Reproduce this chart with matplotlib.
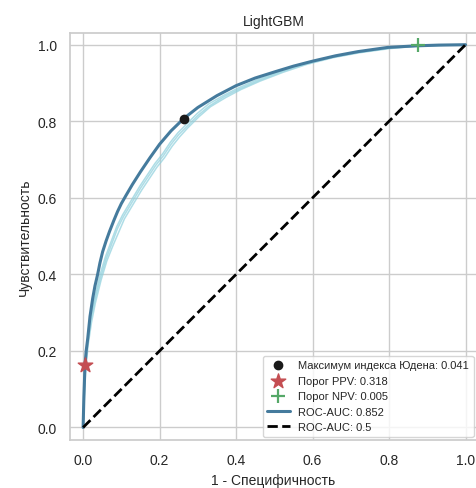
import numpy as np
import matplotlib.pyplot as plt
import seaborn as sns

sns.set_theme(style="whitegrid")
plt.rcParams['font.family'] = ['Liberation Sans', 'DejaVu Sans']

# main ROC curve (1 - specificity, sensitivity)
fpr = [0.0, 0.002, 0.005, 0.008, 0.012, 0.018, 0.025, 0.031, 0.038, 0.044, 0.051, 0.06, 0.069,
       0.08, 0.09, 0.1, 0.112, 0.129, 0.15, 0.175, 0.2, 0.23, 0.263, 0.3, 0.35, 0.4, 0.45,
       0.504, 0.55, 0.6, 0.66, 0.719, 0.797, 0.87, 0.93, 1.0]
tpr = [0.0, 0.08, 0.164, 0.2, 0.232, 0.29, 0.337, 0.37, 0.4, 0.43, 0.459, 0.487, 0.512,
       0.54, 0.564, 0.585, 0.606, 0.635, 0.668, 0.705, 0.74, 0.775, 0.807, 0.836, 0.867, 0.893, 0.913,
       0.93, 0.944, 0.957, 0.971, 0.982, 0.993, 0.997, 0.999, 1.0]

# cross-validation fold curves (lighter)
fold_fpr = [
    [0.0, 0.005, 0.012, 0.02, 0.03, 0.045, 0.06, 0.075, 0.09, 0.105, 0.12, 0.135, 0.15, 0.17, 0.19,
     0.21, 0.23, 0.25, 0.27, 0.3, 0.33, 0.37, 0.41, 0.46, 0.52, 0.58, 0.65, 0.72, 0.8, 0.88, 1.0],
    [0.0, 0.006, 0.013, 0.022, 0.032, 0.047, 0.062, 0.078, 0.093, 0.108, 0.123, 0.138, 0.153, 0.173,
     0.193, 0.213, 0.233, 0.253, 0.273, 0.303, 0.333, 0.373, 0.413, 0.463, 0.523, 0.583, 0.653,
     0.723, 0.803, 0.883, 1.0],
    [0.0, 0.004, 0.011, 0.019, 0.029, 0.043, 0.058, 0.073, 0.088, 0.103, 0.118, 0.133, 0.148, 0.168,
     0.188, 0.208, 0.228, 0.248, 0.268, 0.298, 0.328, 0.368, 0.408, 0.458, 0.518, 0.578, 0.648,
     0.718, 0.798, 0.878, 1.0],
]
fold_tpr = [
    [0.0, 0.15, 0.22, 0.28, 0.33, 0.39, 0.44, 0.48, 0.52, 0.55, 0.575, 0.6, 0.625, 0.655, 0.685,
     0.71, 0.74, 0.765, 0.785, 0.815, 0.84, 0.865, 0.885, 0.907, 0.93, 0.95, 0.967, 0.98, 0.991,
     0.997, 1.0],
    [0.0, 0.14, 0.215, 0.275, 0.325, 0.385, 0.435, 0.475, 0.51, 0.545, 0.57, 0.595, 0.62, 0.65,
     0.68, 0.705, 0.735, 0.76, 0.782, 0.812, 0.838, 0.862, 0.883, 0.905, 0.928, 0.948, 0.966,
     0.979, 0.99, 0.997, 1.0],
    [0.0, 0.155, 0.225, 0.285, 0.335, 0.395, 0.445, 0.485, 0.525, 0.555, 0.58, 0.605, 0.63, 0.66,
     0.69, 0.715, 0.745, 0.77, 0.79, 0.82, 0.845, 0.868, 0.888, 0.91, 0.932, 0.952, 0.968, 0.981,
     0.992, 0.998, 1.0],
]

youden = (0.263, 0.807)
ppv = (0.005, 0.164)
npv = (0.875, 0.998)

fig = plt.figure(figsize=(4.77, 4.89), dpi=100)
ax = fig.add_axes([0.147, 0.098, 0.853, 0.832])

for fx, fy in zip(fold_fpr, fold_tpr):
    ax.plot(fx, fy, color='#8ccfdc', lw=1.1, alpha=0.7)

ax.scatter(*youden, color='#1a1a1a', s=36, zorder=5, label='Максимум индекса Юдена: 0.041')
ax.scatter(*ppv, color='#c44e52', marker='*', s=120, zorder=5, label='Порог PPV: 0.318')
ax.scatter(*npv, color='#55a868', marker='+', s=100, linewidths=1.6, zorder=5, label='Порог NPV: 0.005')
ax.plot(fpr, tpr, color='#457b9d', lw=2.2, label='ROC-AUC: 0.852')
ax.plot([0, 1], [0, 1], color='black', lw=2, ls='--', label='ROC-AUC: 0.5')

ax.set_xlim(-0.034, 1.03)
ax.set_ylim(-0.033, 1.03)
ax.set_xticks([0, 0.2, 0.4, 0.6, 0.8, 1.0])
ax.set_yticks([0, 0.2, 0.4, 0.6, 0.8, 1.0])
ax.tick_params(labelsize=10)
ax.set_xlabel('1 - Специфичность', fontsize=10)
ax.set_ylabel('Чувствительность', fontsize=10)
ax.set_title('LightGBM', fontsize=10)

ax.legend(loc='lower right', fontsize=8, borderaxespad=0.3,
          handlelength=2, labelspacing=0.5)

fig.savefig('out.png', dpi=100)
